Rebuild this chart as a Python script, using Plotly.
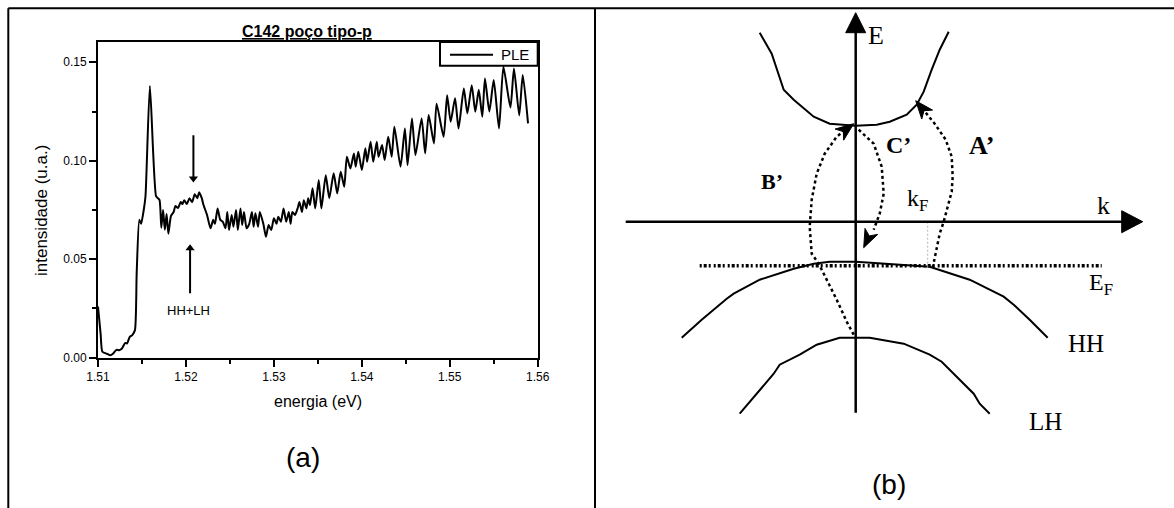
import math
import plotly.graph_objects as go

W, H = 1174, 508

# ---------------- PLE spectrum, sample C142 (p-type well) ----------------
energia = [
    1.5100, 1.5103, 1.5105, 1.5110, 1.5114, 1.5117, 1.5121, 1.5124, 1.5127, 1.5131,
    1.5133, 1.5136, 1.5139, 1.5142, 1.5144, 1.5147, 1.5149, 1.5152, 1.5154, 1.5159,
    1.5166, 1.5168, 1.5170, 1.5172, 1.5174, 1.5176, 1.5178, 1.5180, 1.5183, 1.5186,
    1.5188, 1.5191, 1.5194, 1.5196, 1.5198, 1.5201, 1.5204, 1.5207, 1.5210, 1.5213,
    1.5215, 1.5218, 1.5220, 1.5224, 1.5228, 1.5231, 1.5233, 1.5236, 1.5239, 1.5242,
    1.5245, 1.5247, 1.5249, 1.5252, 1.5254, 1.5257, 1.5259, 1.5262, 1.5264, 1.5266,
    1.5269, 1.5272, 1.5275, 1.5277, 1.5279, 1.5282, 1.5284, 1.5288, 1.5291, 1.5294,
    1.5297, 1.5300, 1.5303, 1.5305, 1.5308, 1.5311, 1.5314, 1.5317, 1.5319, 1.5321,
    1.5324, 1.5327, 1.5329, 1.5332, 1.5334, 1.5337, 1.5339, 1.5341, 1.5344, 1.5347,
    1.5351, 1.5354, 1.5359, 1.5363, 1.5368, 1.5372, 1.5376, 1.5380, 1.5383, 1.5387,
    1.5391, 1.5393, 1.5396, 1.5400, 1.5404, 1.5406, 1.5410, 1.5413, 1.5417, 1.5419,
    1.5423, 1.5426, 1.5430, 1.5434, 1.5437, 1.5444, 1.5449, 1.5452, 1.5457, 1.5461,
    1.5468, 1.5472, 1.5476, 1.5482, 1.5485, 1.5493, 1.5497, 1.5501, 1.5506, 1.5510,
    1.5516, 1.5520, 1.5525, 1.5529, 1.5533, 1.5537, 1.5540, 1.5545, 1.5550, 1.5556,
    1.5561, 1.5569, 1.5573, 1.5579, 1.5583, 1.5589,
]
intensidade = [
    0.0260, 0.0120, 0.0030, 0.0020, 0.0012, 0.0020, 0.0040, 0.0038, 0.0045, 0.0075,
    0.0072, 0.0105, 0.0115, 0.0140, 0.0430, 0.0700, 0.0680, 0.0750, 0.0820, 0.1380,
    0.0820, 0.0810, 0.0800, 0.0660, 0.0750, 0.0650, 0.0730, 0.0630, 0.0720, 0.0740,
    0.0770, 0.0760, 0.0790, 0.0780, 0.0800, 0.0780, 0.0810, 0.0790, 0.0830, 0.0810,
    0.0840, 0.0810, 0.0775, 0.0725, 0.0657, 0.0700, 0.0680, 0.0758, 0.0700, 0.0690,
    0.0657, 0.0740, 0.0648, 0.0725, 0.0665, 0.0750, 0.0648, 0.0758, 0.0674, 0.0740,
    0.0657, 0.0680, 0.0740, 0.0665, 0.0733, 0.0665, 0.0740, 0.0680, 0.0614, 0.0674,
    0.0648, 0.0708, 0.0680, 0.0716, 0.0690, 0.0758, 0.0690, 0.0740, 0.0680, 0.0740,
    0.0725, 0.0758, 0.0790, 0.0740, 0.0800, 0.0758, 0.0810, 0.0775, 0.0860, 0.0758,
    0.0902, 0.0758, 0.0927, 0.0810, 0.0936, 0.0834, 0.0944, 0.0868, 0.1020, 0.0961,
    0.1037, 0.0970, 0.1046, 0.0953, 0.1063, 0.0995, 0.1096, 0.0995, 0.1096, 0.1020,
    0.1080, 0.1004, 0.1122, 0.1020, 0.1173, 0.0970, 0.1164, 0.0978, 0.1215, 0.1029,
    0.1215, 0.1037, 0.1232, 0.1088, 0.1290, 0.1122, 0.1333, 0.1198, 0.1317, 0.1164,
    0.1367, 0.1240, 0.1384, 0.1249, 0.1360, 0.1223, 0.1418, 0.1250, 0.1410, 0.1164,
    0.1477, 0.1270, 0.1469, 0.1230, 0.1435, 0.1190,
]
x_ticks = [1.51, 1.52, 1.53, 1.54, 1.55, 1.56]
y_ticks = [0.00, 0.05, 0.10, 0.15]
x_range = [1.51, 1.56]
y_range = [0.0, 0.1603]

# HH+LH marker arrows (energy, arrow head, arrow tail)
hhlh_down = (1.52085, 0.0885, 0.1130)
hhlh_up = (1.52047, 0.0581, 0.0327)
hhlh_label = (1.52028, 0.0242)

# ---------------- band diagram (arbitrary units, origin at k=0, E=0) ----------------
cb_k = [-96, -84, -72, -62, -42, -26, 0, 21, 34, 51, 61, 68, 76, 84, 93]
cb_E = [189, 168, 132, 122, 105, 98, 96, 97, 100, 107, 117, 130, 152, 172, 190]
hh_k = [-174, -154, -129, -122, -96, -62, -42, -26, 0, 14, 34, 74, 114, 148, 158, 174, 192]
hh_E = [-116, -98, -77, -72, -58, -47, -42, -40, -40, -41, -42, -45, -58, -75, -83, -98, -116]
lh_k = [-116, -82, -76, -56, -39, -16, 0, 14, 48, 74, 86, 118, 124, 134]
lh_E = [-192, -152, -143, -133, -123, -116, -116, -116, -122, -133, -140, -172, -182, -192]
E_F = -44
ef_span = [-156, 246]
k_F = 72
kf_span = [0, -48]
e_axis_span = [-191, 209]
k_axis_span = [-230, 287]

# optical transitions A', B', C'
trA_k = [77, 80, 84, 88, 92, 96, 97, 96, 90, 79, 66, 60]
trA_E = [-46, -30, -12, 0, 15, 30, 45, 65, 82, 98, 114, 121]
trB_k = [-2, -9, -19, -29, -37, -44, -46, -44, -39, -31, -19, -9, -2]
trB_E = [-113, -100, -78, -58, -42, -32, -5, 22, 48, 68, 85, 93, 98]
trC_k = [3, 18, 26, 28, 24, 18, 8]
trC_E = [92, 78, 55, 28, 8, -8, -26]

# pixel placement of the two panels
left_box = dict(x0=98, x1=537.7, y0=42, y1=357.7)
origin_px = (855.7, 221.7)
panel_b_x0 = 597


def px(x):
    return x / W


def py(y):
    return 1 - y / H


SANS = "Liberation Sans, Arial, sans-serif"
SERIF = "Liberation Serif, Times New Roman, serif"

fig = go.Figure()

fig.add_trace(go.Scatter(
    x=energia, y=intensidade, mode="lines", name="PLE",
    line=dict(color="black", width=2, shape="spline", smoothing=0.6), showlegend=False,
    xaxis="x", yaxis="y",
))

# HH+LH arrows: shaft plus a triangular head at the arrow tip
y_per_px = (y_range[1] - y_range[0]) / (left_box["y1"] - left_box["y0"])
for e, y_head, y_tail in [hhlh_down, hhlh_up]:
    sgn = 1 if y_tail > y_head else -1
    fig.add_trace(go.Scatter(x=[e, e], y=[y_tail, y_head + sgn * 4 * y_per_px],
                             mode="lines", line=dict(color="black", width=2),
                             showlegend=False, hoverinfo="skip", xaxis="x", yaxis="y"))
    fig.add_trace(go.Scatter(x=[e], y=[y_head + sgn * 5 * y_per_px], mode="markers",
                             marker=dict(symbol="triangle-down" if sgn > 0 else "triangle-up",
                                         size=8, color="black", line=dict(width=0)),
                             showlegend=False, hoverinfo="skip", xaxis="x", yaxis="y"))

# band curves
for kk, ee in [(cb_k, cb_E), (hh_k, hh_E), (lh_k, lh_E)]:
    fig.add_trace(go.Scatter(x=kk, y=ee, mode="lines", xaxis="x2", yaxis="y2",
                             line=dict(color="black", width=2), showlegend=False,
                             hoverinfo="skip"))

# Fermi level and Fermi wave vector
fig.add_trace(go.Scatter(x=ef_span, y=[E_F, E_F], mode="lines", xaxis="x2", yaxis="y2",
                         line=dict(color="black", width=3.5, dash="2px,2px,3px,2px,2px,3px"),
                         showlegend=False, hoverinfo="skip"))
fig.add_trace(go.Scatter(x=[k_F, k_F], y=kf_span, mode="lines", xaxis="x2", yaxis="y2",
                         line=dict(color="#b0b0b0", width=1, dash="2px,2px"),
                         showlegend=False, hoverinfo="skip"))

# coordinate axes of the diagram
fig.add_trace(go.Scatter(x=[0, 0], y=[e_axis_span[0], e_axis_span[1] - 18], mode="lines",
                         xaxis="x2", yaxis="y2", line=dict(color="black", width=2.5),
                         showlegend=False, hoverinfo="skip"))
fig.add_trace(go.Scatter(x=[k_axis_span[0], k_axis_span[1] - 18], y=[0, 0], mode="lines",
                         xaxis="x2", yaxis="y2", line=dict(color="black", width=2.5),
                         showlegend=False, hoverinfo="skip"))


def head(tip, prev, length, half, notch=0.0):
    dx, dy = tip[0] - prev[0], tip[1] - prev[1]
    n = math.hypot(dx, dy)
    ux, uy = dx / n, dy / n
    nx_, ny_ = -uy, ux
    bx, by = tip[0] - ux * length, tip[1] - uy * length
    cx, cy = tip[0] - ux * (length - notch), tip[1] - uy * (length - notch)
    xs = [tip[0], bx + nx_ * half, cx, bx - nx_ * half, tip[0]]
    ys = [tip[1], by + ny_ * half, cy, by - ny_ * half, tip[1]]
    return xs, ys


def add_head(xs, ys):
    fig.add_trace(go.Scatter(x=xs, y=ys, mode="lines", fill="toself", fillcolor="black",
                             line=dict(color="black", width=1), xaxis="x2", yaxis="y2",
                             showlegend=False, hoverinfo="skip"))


add_head(*head((0, e_axis_span[1]), (0, 0), 20, 10))
add_head(*head((k_axis_span[1], 0), (0, 0), 21, 11))

# dotted transition paths with dart heads
for kk, ee in [(trA_k, trA_E), (trB_k, trB_E), (trC_k, trC_E)]:
    fig.add_trace(go.Scatter(x=kk[:-1], y=ee[:-1], mode="lines", xaxis="x2", yaxis="y2",
                             line=dict(color="black", width=2.5, dash="dot"),
                             showlegend=False, hoverinfo="skip"))
    add_head(*head((kk[-1], ee[-1]), (kk[-3], ee[-3]), 18, 7, 5))

# ---------------- layout ----------------
ox, oy = origin_px
axis_common = dict(showgrid=False, zeroline=False, showline=True, linewidth=2,
                   linecolor="black", mirror=True, ticks="outside", ticklen=7,
                   tickwidth=2, tickcolor="black", automargin=False,
                   tickfont=dict(family=SANS, size=12, color="black"))

fig.update_layout(
    width=W, height=H,
    margin=dict(l=0, r=0, t=0, b=0, pad=0, autoexpand=False),
    paper_bgcolor="white", plot_bgcolor="rgba(0,0,0,0)", showlegend=False,
    xaxis=dict(domain=[px(left_box["x0"]), px(left_box["x1"])], range=x_range,
               tickvals=x_ticks, tickformat=".2f", anchor="y",
               minor=dict(dtick=0.005, ticklen=4, tickwidth=2, ticks="outside",
                          tickcolor="black", showgrid=False),
               **axis_common),
    yaxis=dict(domain=[py(left_box["y1"]), py(left_box["y0"])], range=y_range,
               tickvals=y_ticks, tickformat=".2f", anchor="x",
               minor=dict(dtick=0.025, ticklen=4, tickwidth=2, ticks="outside",
                          tickcolor="black", showgrid=False),
               **axis_common),
    xaxis2=dict(domain=[px(panel_b_x0), 1], range=[panel_b_x0 - ox, W - ox],
                visible=False, anchor="y2", fixedrange=True),
    yaxis2=dict(domain=[0, 1], range=[oy - H, oy], visible=False, anchor="x2",
                fixedrange=True),
)

black = dict(color="black", width=2)
shapes = [
    # outer frame and divider
    dict(type="line", xref="paper", yref="paper", x0=px(8.3), x1=1, y0=py(8.3), y1=py(8.3), line=black),
    dict(type="line", xref="paper", yref="paper", x0=px(8.3), x1=px(8.3), y0=py(8.3), y1=0, line=black),
    dict(type="line", xref="paper", yref="paper", x0=px(595), x1=px(595), y0=py(8.3), y1=0, line=black),
    # legend box
    dict(type="rect", xref="paper", yref="paper", x0=px(440), x1=px(537.7), y0=py(65.7),
         y1=py(42), line=black, fillcolor="white", layer="above"),
    dict(type="line", xref="paper", yref="paper", x0=px(450), x1=px(493), y0=py(54.7),
         y1=py(54.7), line=black, layer="above"),
]
fig.update_layout(shapes=shapes)

ann = []


def text(x, y, s, size, family=SANS, xref="paper", yref="paper", xanchor="center", **kw):
    ann.append(dict(x=x, y=y, xref=xref, yref=yref, text=s, showarrow=False,
                    xanchor=xanchor, yanchor="middle",
                    font=dict(family=family, size=size, color="black"), **kw))


# panel (a) texts
text(px(307), py(31), "<b><u>C142 poço tipo-p</u></b>", 16)
text(px(499), py(54.7), "PLE", 15, xanchor="left")
text(px(318.4), py(401.7), "energia (eV)", 16)
text(px(42), py(211), "intensidade (u.a.)", 17, textangle=-90)
text(px(303), py(457), "(a)", 28)
text(hhlh_label[0], hhlh_label[1], "HH+LH", 13, xref="x", yref="y")

# panel (b) texts
text(20.5, 186.7, "E", 26, SERIF, "x2", "y2")
text(248, 16.7, "k", 26, SERIF, "x2", "y2")
text(49.3, 22, "k<sub>F</sub>", 24, SERIF, "x2", "y2", xanchor="left")
text(231.3, -62, "E<sub>F</sub>", 24, SERIF, "x2", "y2", xanchor="left")
text(230.3, -121.3, "HH", 25, SERIF, "x2", "y2")
text(189.3, -200, "LH", 25, SERIF, "x2", "y2")
text(126.3, 76.7, "<b>A’</b>", 26, SERIF, "x2", "y2")
text(42.3, 76.7, "<b>C’</b>", 24, SERIF, "x2", "y2")
text(-83.7, 40.7, "<b>B’</b>", 22, SERIF, "x2", "y2")
text(px(889), py(484), "(b)", 28)

fig.update_layout(annotations=ann)

fig.write_html("out.html")
